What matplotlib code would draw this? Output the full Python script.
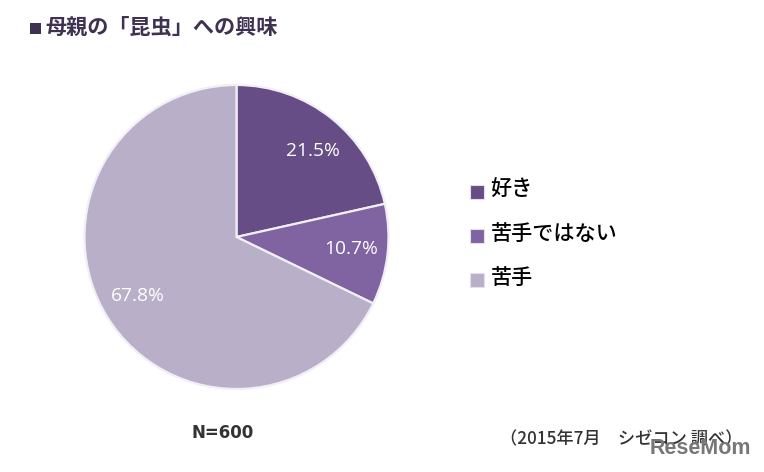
import matplotlib
matplotlib.use("Agg")
import matplotlib.pyplot as plt
from matplotlib.patches import Rectangle

plt.rcParams['font.family'] = ['Noto Sans CJK JP', 'DejaVu Sans']

categories = ['好き', '苦手ではない', '苦手']
values = [21.5, 10.7, 67.8]
value_labels = ['21.5%', '10.7%', '67.8%']
colors = ['#664D85', '#8064A2', '#B9AFC9']

W, H = 764, 472
fig = plt.figure(figsize=(W/100, H/100), dpi=100, facecolor='white')

R = 152
cx, cy = 236.5, 237
ax = fig.add_axes([(cx-R-2)/W, 1-(cy+R+2)/H, (2*R+4)/W, (2*R+4)/H], zorder=1)
wedges, _ = ax.pie(values, colors=colors, startangle=90, counterclock=False, radius=R,
                   frame=True, wedgeprops=dict(edgecolor='#F1EEF5', linewidth=1.6))
ax.set_xlim(-(R+2), R+2); ax.set_ylim(-(R+2), R+2); ax.set_aspect('equal'); ax.axis('off')

bg = fig.add_axes([0, 0, 1, 1], zorder=2)
bg.set_xlim(0, W); bg.set_ylim(H, 0); bg.axis('off')

for (x, y), s in zip([(312.5, 150.5), (351, 249), (137.5, 296)], value_labels):
    bg.text(x, y, s, color='white', fontsize=13.8, ha='center', va='center',
            family=['Open Sans', 'DejaVu Sans'], zorder=5)

bg.add_patch(Rectangle((30, 23), 10.5, 10.5, facecolor='#3F3151', edgecolor='none'))
bg.text(45.5, 27.5, '母親の「昆虫」への興味', color='#3F3151', fontsize=15.2, va='center', ha='left', fontweight='bold')

for y, c, s in zip([192, 236, 280], colors, categories):
    bg.add_patch(Rectangle((470, y-7), 14, 14, facecolor=c, edgecolor='#E4DFEC', linewidth=0.8))
    bg.text(490.5, y-2.5, s, color='black', fontsize=15.2, va='center', ha='left', fontweight='medium')

bg.text(222.5, 433, 'N=600', color='#333333', fontsize=12, va='center', ha='center', fontweight='bold',
        family=['DejaVu Sans'])
bg.text(500, 439, '（2015年7月\u3000シゼコン 調べ）', color='#333333', fontsize=12.4, va='center', ha='left', fontweight='medium')

bg.text(751, 449, 'ReseMom', color='#777777', fontsize=15.5, va='center', ha='right', fontweight='bold',
        family=['Liberation Sans', 'DejaVu Sans'], zorder=6)

fig.savefig('out.png', dpi=100, facecolor='white')
